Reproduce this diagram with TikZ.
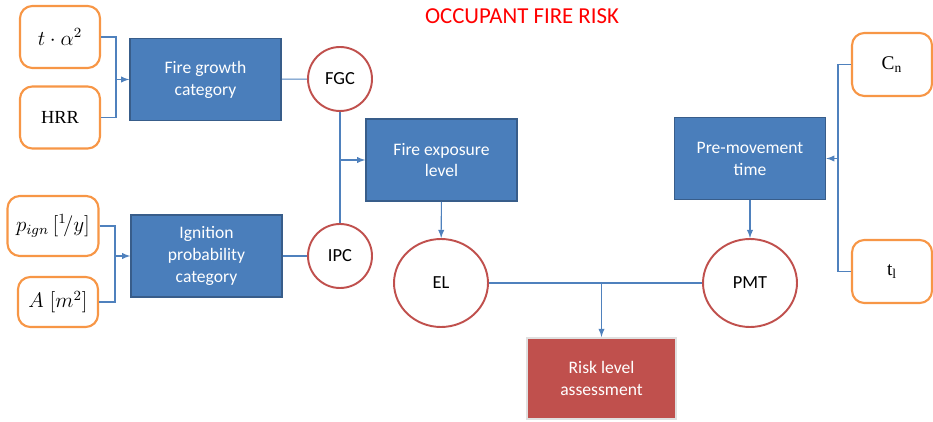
\documentclass[tikz,border=0pt]{standalone}
\usepackage{amsmath}
\usepackage{fontspec}
\setmainfont{Carlito}
\newfontfamily\serfont{Liberation Serif}
\usetikzlibrary{arrows,shapes.geometric}
\definecolor{boxblue}{RGB}{74,126,187}
\definecolor{boxedge}{RGB}{56,93,138}
\definecolor{linkblue}{RGB}{79,129,189}
\definecolor{circred}{RGB}{192,80,77}
\definecolor{inorange}{RGB}{247,150,70}
\tikzset{
  stage/.style={rectangle, fill=boxblue, draw=boxedge, line width=0.9pt, text=white,
    minimum width=3.02cm, minimum height=1.64cm, align=center, font=\fontsize{10}{12.5}\selectfont},
  factor/.style={rectangle, rounded corners=7pt, draw=inorange, line width=1.2pt, fill=white,
    minimum width=1.6cm, minimum height=1.24cm, font=\large},
  result/.style={circle, draw=circred, line width=1.1pt, fill=white, minimum size=1.28cm,
    inner sep=0pt, font=\fontsize{10.5}{12}\selectfont},
  level/.style={ellipse, draw=circred, line width=1.1pt, fill=white, minimum width=1.88cm,
    minimum height=1.76cm, inner sep=0pt, font=\fontsize{10.5}{12}\selectfont},
  link/.style={draw=linkblue, line width=0.6pt},
  arr/.style={link, -latex}
}
\begin{document}
\begin{tikzpicture}[x=0.02cm, y=-0.02cm]
\useasboundingbox (0,0) rectangle (933,422);
\node[text=red, font=\fontsize{13}{15}\selectfont] (title) at (522,16) {OCCUPANT FIRE RISK};
\node[factor] (ta) at (60,37) {$t\cdot\alpha^2$};
\node[factor, font=\fontsize{10.5}{12}\selectfont] (hrr) at (60,117.5) {\serfont HRR};
\node[factor, minimum width=1.82cm, minimum height=1.2cm] (pign) at (53,226) {$p_{ign}\,[{}^{1}\!/y]$};
\node[factor, minimum height=1cm] (area) at (58,302) {$A\;[m^2]$};
\node[stage] (fgcat) at (205.5,79.5) {Fire growth\\category};
\node[stage] (ipcat) at (206.5,256) {Ignition\\probability\\category};
\node[result] (fgc) at (340,79) {FGC};
\node[result] (ipc) at (340,256) {IPC};
\node[stage] (fel) at (441.5,160) {Fire exposure\\level};
\node[level] (el) at (441,283) {EL};
\node[level] (pmt) at (750,283) {PMT};
\node[stage] (pmtbox) at (750,158.5) {Pre-movement\\time};
\node[factor, minimum width=1.6cm, minimum height=1.26cm, font=\fontsize{11}{12}\selectfont] (cn) at (892,64.5) {\serfont C\textsubscript{n}};
\node[factor, minimum width=1.6cm, minimum height=1.26cm, font=\fontsize{11}{12}\selectfont] (tl) at (892,271.5) {\serfont t\textsubscript{l}};
\node[stage, fill=circred, draw=black!12, line width=1.2pt, minimum width=2.98cm, minimum height=1.62cm] (risk) at (601.5,378.5) {Risk level\\assessment};
\coordinate (jg) at (116,79.5);
\coordinate (ji) at (115,256);
\coordinate (je) at (340,160);
\coordinate (jr) at (601.5,283);
\coordinate (jp) at (838,158.5);
\draw[link] (ta.east) -| (jg) |- (hrr.east);
\draw[arr] (jg) -- (fgcat.west);
\draw[link] (pign.east) -| (ji) |- (area.east);
\draw[arr] (ji) -- (ipcat.west);
\draw[link] (fgcat) -- (fgc);
\draw[link] (ipcat) -- (ipc);
\draw[link] (fgc) -- (ipc);
\draw[arr] (je) -- (je -| fel.west);
\draw[arr] (fel) -- (el);
\draw[link] (el) -- (pmt);
\draw[arr] (jr) -- (risk.north);
\draw[arr] (pmtbox) -- (pmt);
\draw[link] (cn.west) -| (jp) |- (tl.west);
\draw[arr] (jp) -- (pmtbox.east);
\end{tikzpicture}
\end{document}
